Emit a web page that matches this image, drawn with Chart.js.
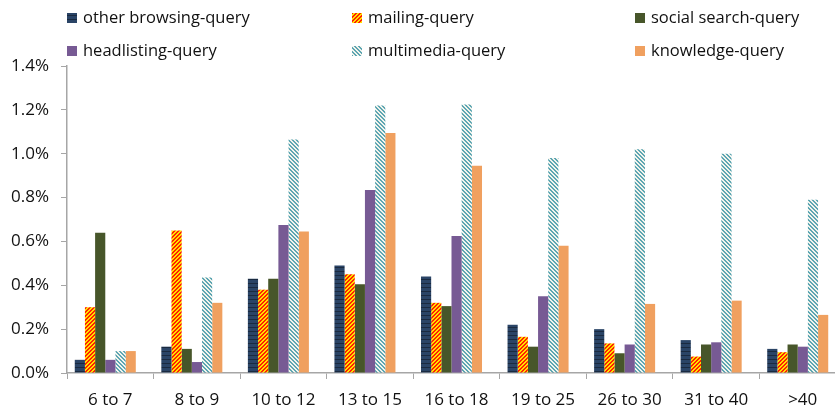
<!DOCTYPE html>
<html>
<head>
<meta charset="utf-8">
<script src="https://cdn.jsdelivr.net/npm/chart.js@4/dist/chart.umd.min.js"></script>
<style>
  html, body { margin: 0; padding: 0; background: #fff; overflow: hidden; }
  #wrap { width: 835px; height: 408px; overflow: hidden; }
  #box { width: 852px; height: 408px; }
</style>
</head>
<body>
<div id="wrap"><div id="box"><canvas id="c"></canvas></div></div>
<script>
// --- Data ---
const categories = ['6 to 7', '8 to 9', '10 to 12', '13 to 15', '16 to 18', '19 to 25', '26 to 30', '31 to 40', '>40'];
const seriesNames = ['other browsing-query', 'mailing-query', 'social search-query', 'headlisting-query', 'multimedia-query', 'knowledge-query'];
const otherBrowsing = [0.06, 0.12, 0.43, 0.49, 0.44, 0.22, 0.20, 0.15, 0.11];
const mailing      = [0.30, 0.65, 0.38, 0.45, 0.32, 0.165, 0.135, 0.075, 0.095];
const socialSearch = [0.64, 0.11, 0.43, 0.405, 0.305, 0.12, 0.09, 0.13, 0.13];
const headlisting  = [0.06, 0.05, 0.675, 0.835, 0.625, 0.35, 0.13, 0.14, 0.12];
const multimedia   = [0.10, 0.435, 1.065, 1.22, 1.225, 0.98, 1.02, 1.0, 0.79];
const knowledge    = [0.10, 0.32, 0.645, 1.095, 0.945, 0.58, 0.315, 0.33, 0.265];
const yTicks = [0, 0.2, 0.4, 0.6, 0.8, 1.0, 1.2, 1.4];

const FONT = "'Open Sans', 'Liberation Sans', sans-serif";
const ctx = document.getElementById('c').getContext('2d');

// --- Utility: pixel patterns ---
function makePattern(w, h, colorAt) {
  const tile = document.createElement('canvas');
  tile.width = w; tile.height = h;
  const t = tile.getContext('2d');
  for (let x = 0; x < w; x++) {
    for (let y = 0; y < h; y++) {
      t.fillStyle = colorAt(x, y);
      t.fillRect(x, y, 1, 1);
    }
  }
  return ctx.createPattern(tile, 'repeat');
}

const fills = [
  makePattern(4, 4, (x, y) => y === 3 ? '#1a2a40' : '#2a4466'),                 // horizontal bands
  makePattern(4, 4, (x, y) => ((x + y) % 4) < 2 ? '#ff2200' : '#ffe000'),      // "/" stripes
  '#47562a',
  '#775a94',
  makePattern(4, 4, (x, y) => ((x - y + 8) % 4) < 2 ? '#5ea6b2' : '#f2f4ee'),  // "\" stripes
  '#f0a05f'
];
const values = [otherBrowsing, mailing, socialSearch, headlisting, multimedia, knowledge];

// --- Legend in three fixed columns ---
const legendCols = [67, 352, 635];
const legendRows = [18, 51];
const gridLegend = {
  id: 'gridLegend',
  afterDraw(chart) {
    const c = chart.ctx;
    c.save();
    c.font = '16.5px ' + FONT;
    c.textBaseline = 'middle';
    seriesNames.forEach((name, i) => {
      const x = legendCols[i % 3];
      const y = legendRows[Math.floor(i / 3)];
      c.fillStyle = fills[i];
      c.fillRect(x, y - 5, 10, 10);
      c.fillStyle = '#111';
      c.fillText(name, x + 16, y);
    });
    c.restore();
  }
};

// bar groups sit a little left of the category centre in the original
const groupShift = {
  id: 'groupShift',
  afterDatasetsUpdate(chart) {
    chart.data.datasets.forEach((d, i) => {
      chart.getDatasetMeta(i).data.forEach(el => { el.x -= 5; });
    });
  }
};

new Chart(ctx, {
  type: 'bar',
  data: {
    labels: categories,
    datasets: seriesNames.map((name, i) => ({
      label: name,
      data: values[i],
      backgroundColor: fills[i],
      borderWidth: 0,
      categoryPercentage: 0.705,
      barPercentage: 1.0
    }))
  },
  options: {
    responsive: true,
    maintainAspectRatio: false,
    animation: false,
    layout: { padding: { top: 66, right: 6, left: 0, bottom: 0 } },
    plugins: { legend: { display: false }, tooltip: { enabled: false } },
    scales: {
      x: {
        afterFit: s => { s.height = 35; },
        grid: { offset: true, drawOnChartArea: false, drawTicks: true, tickLength: 6, color: '#a6a6a6' },
        border: { display: true, color: '#a6a6a6', width: 1.5 },
        ticks: { color: '#111', font: { family: FONT, size: 17 }, padding: 11, maxRotation: 0 }
      },
      y: {
        min: 0,
        max: 1.4,
        afterFit: s => { s.width = 67; },
        afterBuildTicks: s => { s.ticks = yTicks.map(v => ({ value: v })); },
        grid: { drawOnChartArea: false, drawTicks: true, tickLength: 6, color: '#a6a6a6' },
        border: { display: true, color: '#a6a6a6', width: 1.5 },
        ticks: {
          color: '#111',
          font: { family: FONT, size: 17 },
          padding: 12,
          callback: v => Number(v).toFixed(1) + '%'
        }
      }
    }
  },
  plugins: [gridLegend, groupShift]
});
</script>
</body>
</html>
